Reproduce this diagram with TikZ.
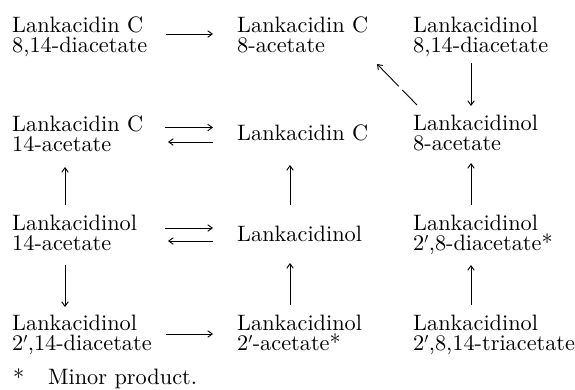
\documentclass[tikz,border=0pt]{standalone}
\usepackage{fontspec}
\setmainfont{lmroman10-regular.otf}
\usetikzlibrary{arrows.meta,calc}
\begin{document}
\begin{tikzpicture}[x=1pt,y=1pt,
  cmpd/.style={anchor=north west,inner sep=0pt,align=left,
    font=\fontsize{22.3}{20.5}\selectfont},
  arr/.style={-{Straight Barb[length=4.5pt,width=6.5pt]},line width=0.9pt},
  darr/.style={arr,dash pattern=on 21pt off 5pt on 80pt off 1pt}]
\useasboundingbox (0,0) rectangle (575,-389);

% compounds: north west corner sits 15.5pt above the first baseline
\node[cmpd] (r1c1) at (12,-16.5)  {Lankacidin C\\8,14-diacetate};
\node[cmpd] (r1c2) at (237,-16.5) {Lankacidin C\\8-acetate};
\node[cmpd] (r1c3) at (413,-16.5) {Lankacidinol\\8,14-diacetate};

\node[cmpd] (r2c1) at (12,-115.5)  {Lankacidin C\\14-acetate};
\node[cmpd] (r2c2) at (237,-124.5) {Lankacidin C};
\node[cmpd] (r2c3) at (413,-114.5) {Lankacidinol\\8-acetate};

\node[cmpd] (r3c1) at (12,-214.5)  {Lankacidinol\\14-acetate};
\node[cmpd] (r3c2) at (237,-225.5) {Lankacidinol};
\node[cmpd] (r3c3) at (413,-214.5) {Lankacidinol\\2$'$,8-diacetate*};

\node[cmpd] (r4c1) at (12,-314.5)  {Lankacidinol\\2$'$,14-diacetate};
\node[cmpd] (r4c2) at (237,-314.5) {Lankacidinol\\2$'$-acetate*};
\node[cmpd] (r4c3) at (413,-314.5) {Lankacidinol\\2$'$,8,14-triacetate};

\node[cmpd] (star) at (13,-369) {*};
\node[cmpd] (note) at (48,-369) {Minor product.};

% horizontal conversions
\draw[arr] ($(r1c1.north west)+(154,-17.5)$) -- ($(r1c2.north west)+(-24,-17.5)$);
\draw[arr] ($(r2c1.north west)+(153,-12)$) -- ($(r2c2.north west)+(-24,-3)$);
\draw[arr] ($(r2c2.north west)+(-24,-17.5)$) -- ($(r2c1.north west)+(156,-26.5)$);
\draw[arr] ($(r3c1.north west)+(153,-13.5)$) -- ($(r3c2.north west)+(-24,-2.5)$);
\draw[arr] ($(r3c2.north west)+(-24,-15.5)$) -- ($(r3c1.north west)+(156,-26.5)$);
\draw[arr] ($(r4c1.north west)+(154,-19.5)$) -- ($(r4c2.north west)+(-24,-19.5)$);

% vertical conversions
\draw[arr] ($(r3c1.north west)+(53,9.5)$) -- ($(r2c1.north west)+(53,-51.5)$);
\draw[arr] ($(r3c1.north west)+(53,-50.5)$) -- ($(r4c1.north west)+(53,7.5)$);
\draw[arr] ($(r3c2.north west)+(53,20.5)$) -- ($(r2c2.north west)+(53,-40.5)$);
\draw[arr] ($(r4c2.north west)+(53,9.5)$) -- ($(r3c2.north west)+(53,-37.5)$);
\draw[arr] ($(r1c3.north west)+(58,-46.5)$) -- ($(r2c3.north west)+(58,8.5)$);
\draw[arr] ($(r3c3.north west)+(58,9.5)$) -- ($(r2c3.north west)+(58,-48.5)$);
\draw[arr] ($(r4c3.north west)+(58,9.5)$) -- ($(r3c3.north west)+(58,-50.5)$);

% dashed diagonal
\draw[darr] ($(r2c3.north west)+(4,9.5)$) -- ($(r1c2.north west)+(140,-47.5)$);
\end{tikzpicture}
\end{document}
